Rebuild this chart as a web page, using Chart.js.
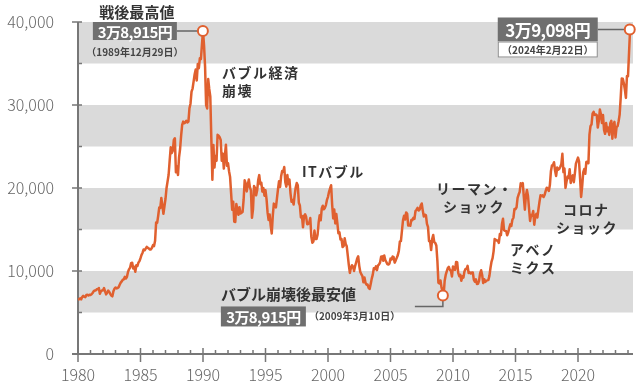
<!DOCTYPE html>
<html>
<head>
<meta charset="utf-8">
<script src="https://cdn.jsdelivr.net/npm/chart.js@4"></script>
<style>
  html, body { margin: 0; padding: 0; background: #fff; }
  #wrap { width: 640px; height: 392px; }
</style>
</head>
<body>
<div id="wrap"><canvas id="nikkeiChart" width="640" height="392"></canvas></div>
<script>
// 日経平均 月末終値（推定）1979年12月〜2024年2月
const closes1980s = [
  6569,
  6600, 6700, 6580, 6860, 7000, 6900, 6850, 7100, 7130, 7050, 7150, 7116,
  7200, 7350, 7550, 7650, 7650, 7800, 7820, 7950, 7270, 7550, 7650, 7680,
  7950, 7550, 7180, 7400, 7650, 7480, 7250, 7050, 6950, 7550, 7850, 8016,
  7900, 7950, 8050, 8350, 8600, 8750, 8950, 9000, 9300, 9100, 9300, 9893,
  10200, 10400, 10950, 11000, 10300, 10500, 9900, 10700, 10600, 11000, 11200, 11542,
  11950, 12200, 12600, 12500, 12700, 12900, 12800, 12700, 12600, 12600, 12800, 13113,
  13000, 13650, 15850, 15800, 16650, 17650, 17600, 18800, 17900, 16900, 17800, 18701,
  20000, 20800, 21600, 23300, 24900, 24200, 24500, 25800, 26000, 21900, 22600, 21564,
  23700, 24700, 26300, 27600, 28000, 27800, 27900, 28100, 27900, 28000, 29600, 30159,
  31600, 31985, 32839, 33713, 34267, 32949, 34954, 34431, 35637, 35549, 37269, 38915
];
const closes1990s = [
  37189, 34592, 29980, 29585, 33131, 31940, 31036, 25978, 20984, 25194, 22455, 23849,
  23293, 26409, 26292, 26111, 25790, 23291, 24121, 22336, 23916, 25222, 22687, 22984,
  22023, 21339, 19346, 17391, 18348, 15952, 15910, 18061, 17399, 16767, 17684, 16925,
  17024, 17113, 18591, 20919, 20552, 19590, 20380, 21027, 20106, 19704, 16408, 17417,
  20229, 19997, 19112, 19725, 20974, 21552, 20462, 20629, 19564, 19990, 19078, 19723,
  18650, 17053, 16140, 16807, 15437, 14517, 16678, 18117, 17913, 17655, 18744, 19868,
  20813, 20125, 21407, 22041, 21956, 22531, 20693, 20167, 21556, 20467, 21020, 19361,
  18330, 18557, 18003, 19151, 20068, 20605, 20331, 18229, 17888, 16459, 16636, 15258,
  16628, 16831, 16527, 15641, 15671, 15830, 16379, 14108, 13406, 13564, 14883, 13842,
  13859, 14367, 15837, 16701, 16112, 17530, 17862, 17437, 17605, 17942, 18558, 18934
];
const closes2000s = [
  19540, 19960, 20337, 17974, 16332, 17411, 15727, 16861, 15747, 14540, 14649, 13786,
  13844, 12884, 12999, 13934, 13262, 12969, 11861, 10713, 9775, 10366, 10697, 10543,
  9998, 10588, 11025, 11493, 11764, 10622, 9877, 9619, 9383, 8640, 9216, 8579,
  8340, 8363, 7973, 7831, 8425, 9083, 9563, 10344, 10219, 10560, 10101, 10677,
  10784, 11041, 11715, 11762, 11236, 11859, 11326, 11082, 10824, 10771, 10899, 11489,
  11388, 11741, 11669, 11009, 11277, 11584, 11900, 12414, 13574, 13607, 14872, 16111,
  16650, 16206, 17060, 16906, 15468, 15505, 15457, 16141, 16128, 16399, 16274, 17226,
  17383, 17604, 17288, 17400, 17876, 18138, 17249, 16569, 16786, 16737, 15681, 15308,
  13593, 13604, 12526, 13850, 14339, 13481, 13377, 13073, 11260, 8577, 8512, 8860,
  7994, 7568, 7054, 8828, 9523, 9958, 10357, 10493, 10133, 10035, 9346, 10546
];
const closes2010s = [
  10198, 10126, 11090, 11057, 9769, 9383, 9537, 8824, 9369, 9202, 9937, 10229,
  10238, 10624, 9755, 9850, 9694, 9816, 9833, 8955, 8700, 8988, 8435, 8455,
  8803, 9723, 10084, 9521, 8543, 9007, 8695, 8840, 8870, 8928, 9446, 10395,
  11139, 11559, 12398, 13861, 13775, 13677, 13668, 13389, 14456, 14328, 15662, 16291,
  14915, 14841, 14828, 14304, 14632, 15162, 15621, 15425, 16174, 16414, 17460, 17451,
  17674, 18798, 19207, 19520, 20563, 20236, 20585, 18890, 17388, 19083, 19747, 19034,
  17518, 16027, 16759, 16666, 17235, 15576, 16569, 16887, 16450, 17425, 18308, 19114,
  19041, 19119, 18909, 19197, 19651, 20033, 19925, 19646, 20356, 22012, 22725, 22765,
  23098, 22068, 21454, 22468, 22202, 22305, 22554, 22865, 24120, 21920, 22351, 20015,
  20773, 21385, 21206, 22259, 20601, 21276, 21522, 20704, 21756, 22927, 23294, 23657
];
const closes2020s = [
  23205, 21143, 18917, 20194, 21878, 22288, 21710, 23140, 23185, 22977, 26434, 27444,
  27663, 28966, 29179, 28813, 28860, 28792, 27284, 28090, 29453, 28893, 27822, 28792,
  27002, 26527, 27821, 26848, 27280, 26393, 27802, 28092, 25937, 27587, 27969, 26095,
  27327, 27446, 28041, 28856, 30888, 33189, 33172, 32619, 31858, 30859, 33487, 33464,
  36287, 39098
];
const closes = [].concat(closes1980s, closes1990s, closes2000s, closes2010s, closes2020s);

// 注目点：戦後最高値・現在値・バブル崩壊後最安値
const markerDates = [1989.99, 2024.14, 2009.19];
const markerValues = [38915, 39098, 7054];

const xTicks = [1980, 1985, 1990, 1995, 2000, 2005, 2010, 2015, 2020];
const yBands = [[5000, 10000], [15000, 20000], [25000, 30000], [35000, 40000]];

const events = [
  { lines: ['バブル経済', '崩壊'], x: 222, y: 73 },
  { lines: ['ITバブル'], x: 302, y: 172 },
  { lines: ['リーマン・', 'ショック'], x: 436, y: 189, indent: [0, 7] },
  { lines: ['アベノ', 'ミクス'], x: 510, y: 250 },
  { lines: ['コロナ', 'ショック'], x: 556, y: 210, indent: [7, 0] }
];

const ORANGE = '#e0602f';
const AXIS = '#777';
const JP = '"Noto Sans CJK JP", "Noto Sans", sans-serif';

const lineData = closes.map((v, i) => ({ x: 1980 + i / 12, y: v }));
const markerData = markerDates.map((d, i) => ({ x: d, y: markerValues[i] }));

function grayBox(ctx, x, y, w, h, text, size) {
  ctx.fillStyle = '#6f6f6f';
  ctx.fillRect(x, y, w, h);
  ctx.fillStyle = '#fff';
  ctx.font = 'bold ' + size + 'px ' + JP;
  ctx.textAlign = 'center';
  ctx.textBaseline = 'middle';
  ctx.letterSpacing = '-0.6px';
  ctx.fillText(text, x + w / 2, y + h / 2 + 1);
  ctx.letterSpacing = '0px';
}

const decorPlugin = {
  id: 'decor',
  beforeDatasetsDraw(chart) {
    const ctx = chart.ctx;
    const xs = chart.scales.x, ys = chart.scales.y;
    const area = chart.chartArea;
    ctx.save();
    // 背景の帯
    ctx.fillStyle = '#dadada';
    yBands.forEach(b => {
      const top = ys.getPixelForValue(b[1]);
      const bot = ys.getPixelForValue(b[0]);
      ctx.fillRect(area.left, top, area.right - area.left, bot - top);
    });

    // 軸
    const x0 = area.left, y0 = ys.getPixelForValue(0);
    ctx.strokeStyle = AXIS;
    ctx.lineWidth = 2;
    ctx.beginPath();
    ctx.moveTo(x0, ys.getPixelForValue(40000));
    ctx.lineTo(x0, y0);
    ctx.moveTo(x0 - 6, y0);
    ctx.lineTo(area.right, y0);
    ctx.stroke();
    ctx.lineWidth = 1.5;
    ctx.beginPath();
    for (let v = 5000; v <= 40000; v += 5000) {
      const py = ys.getPixelForValue(v);
      ctx.moveTo(v % 10000 === 0 ? x0 - 6 : x0, py);
      ctx.lineTo(x0 + 4, py);
    }
    for (let yr = 1980; yr <= 2024; yr++) {
      const px = xs.getPixelForValue(yr);
      if (yr % 5 === 0) {
        ctx.moveTo(px, y0 - 6);
        ctx.lineTo(px, y0 + 8);
      } else {
        ctx.moveTo(px, y0 - 4);
        ctx.lineTo(px, y0);
      }
    }
    ctx.stroke();

    // 出来事ラベル
    ctx.fillStyle = '#333';
    ctx.font = 'bold 14px ' + JP;
    ctx.textAlign = 'left';
    ctx.textBaseline = 'middle';
    ctx.letterSpacing = '1.5px';
    events.forEach(e => {
      e.lines.forEach((t, i) => {
        const ind = e.indent ? e.indent[i] : 0;
        ctx.fillText(t, e.x + ind, e.y + i * 18);
      });
    });
    ctx.letterSpacing = '0px';

    const P = { x: xs.getPixelForValue(markerDates[0]), y: ys.getPixelForValue(markerValues[0]) };
    const C = { x: xs.getPixelForValue(markerDates[1]), y: ys.getPixelForValue(markerValues[1]) };
    const L = { x: xs.getPixelForValue(markerDates[2]), y: ys.getPixelForValue(markerValues[2]) };

    // 引き出し線
    ctx.strokeStyle = '#666';
    ctx.lineWidth = 1.5;
    ctx.beginPath();
    ctx.moveTo(P.x - 26, P.y);
    ctx.lineTo(P.x, P.y);
    ctx.moveTo(C.x - 32, C.y);
    ctx.lineTo(C.x, C.y);
    ctx.moveTo(L.x, L.y);
    ctx.lineTo(L.x, L.y + 11);
    ctx.lineTo(L.x - 28, L.y + 11);
    ctx.stroke();

    // 戦後最高値
    ctx.fillStyle = '#333';
    ctx.font = 'bold 15px ' + JP;
    ctx.textAlign = 'center';
    ctx.textBaseline = 'middle';
    ctx.fillText('戦後最高値', P.x - 66, P.y - 19);
    grayBox(ctx, P.x - 110, P.y - 9, 84, 18, '3万8,915円', 15);
    ctx.fillStyle = '#444';
    ctx.font = 'bold 10px ' + JP;
    ctx.textAlign = 'center';
    ctx.fillText('（1989年12月29日）', P.x - 68, P.y + 21);

    // 現在値
    grayBox(ctx, C.x - 132, C.y - 12, 100, 24, '3万9,098円', 17);
    ctx.fillStyle = '#fff';
    ctx.fillRect(C.x - 132, C.y + 12, 100, 16);
    ctx.strokeStyle = '#888';
    ctx.lineWidth = 1;
    ctx.strokeRect(C.x - 131.5, C.y + 12.5, 99, 15);
    ctx.fillStyle = '#444';
    ctx.font = 'bold 10px ' + JP;
    ctx.textAlign = 'center';
    ctx.fillText('（2024年2月22日）', C.x - 82, C.y + 20.5);

    // バブル崩壊後最安値
    ctx.fillStyle = '#333';
    ctx.font = 'bold 15px ' + JP;
    ctx.textAlign = 'left';
    ctx.fillText('バブル崩壊後最安値', L.x - 222, L.y - 1);
    grayBox(ctx, L.x - 222, L.y + 11, 85, 20, '3万8,915円', 15);
    ctx.fillStyle = '#444';
    ctx.font = 'bold 10px ' + JP;
    ctx.textAlign = 'left';
    ctx.fillText('（2009年3月10日）', L.x - 134, L.y + 21);
    ctx.restore();
  }
};

const ctx = document.getElementById('nikkeiChart').getContext('2d');
new Chart(ctx, {
  type: 'line',
  data: {
    datasets: [
      {
        label: 'markers',
        data: markerData,
        showLine: false,
        pointRadius: 5,
        pointBorderWidth: 2,
        pointBackgroundColor: '#fff',
        pointBorderColor: ORANGE,
        clip: false,
        order: 0
      },
      {
        label: '日経平均',
        data: lineData,
        borderColor: ORANGE,
        borderWidth: 2.5,
        pointRadius: 0,
        tension: 0,
        borderJoinStyle: 'round',
        clip: false,
        order: 1
      }
    ]
  },
  options: {
    responsive: false,
    animation: false,
    layout: { autoPadding: false, padding: { left: 0, right: 7, top: 22, bottom: 0 } },
    plugins: {
      legend: { display: false },
      tooltip: { enabled: false }
    },
    scales: {
      x: {
        type: 'linear',
        min: 1980,
        max: 2024.4,
        grid: { display: false },
        border: { display: false },
        afterFit(scale) { scale.height = 38; },
        afterBuildTicks(scale) { scale.ticks = xTicks.map(v => ({ value: v })); },
        ticks: {
          padding: 3,
          color: '#666',
          font: { family: JP, size: 16, weight: '300' },
          maxRotation: 0,
          callback: v => String(v)
        }
      },
      y: {
        min: 0,
        max: 40000,
        grid: { display: false },
        border: { display: false },
        afterFit(scale) { scale.width = 78; scale.paddingTop = 0; scale.paddingBottom = 0; },
        ticks: {
          stepSize: 10000,
          padding: 16,
          color: '#666',
          font: { family: JP, size: 16, weight: '300' },
          callback: v => v.toLocaleString('en-US')
        }
      }
    }
  },
  plugins: [decorPlugin]
});
</script>
</body>
</html>
